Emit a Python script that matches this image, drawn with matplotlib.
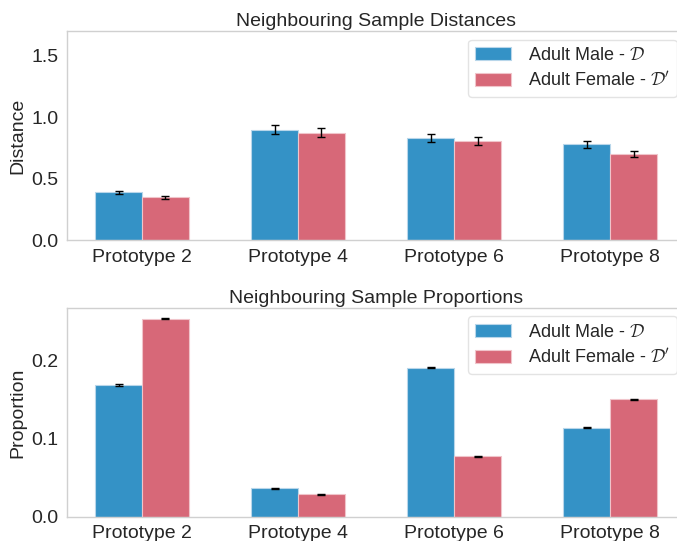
import numpy as np
import matplotlib
matplotlib.use('Agg')
import matplotlib.pyplot as plt
import seaborn as sns

sns.set_style('whitegrid')
plt.rcParams['font.family'] = ['Liberation Sans', 'DejaVu Sans']
plt.rcParams['mathtext.fontset'] = 'cm'

# data
prototypes = ['Prototype 2', 'Prototype 4', 'Prototype 6', 'Prototype 8']
dist_male = [0.39, 0.90, 0.83, 0.78]
dist_male_err = [0.012, 0.035, 0.032, 0.027]
dist_female = [0.35, 0.875, 0.81, 0.705]
dist_female_err = [0.012, 0.035, 0.032, 0.025]
prop_male = [0.169, 0.037, 0.191, 0.114]
prop_male_err = [0.0007, 0.0006, 0.0007, 0.0006]
prop_female = [0.254, 0.029, 0.078, 0.151]
prop_female_err = [0.0007, 0.0006, 0.0006, 0.0007]

labels = [r'Adult Male - $\mathcal{D}$', r"Adult Female - $\mathcal{D}'$"]
c_male = '#3492c6'
c_female = '#d76878'
width = 0.3

fig = plt.figure(figsize=(6.77, 5.41), dpi=100)
ax1 = fig.add_axes([0.099, 0.556, 0.913, 0.386])
ax2 = fig.add_axes([0.099, 0.0444, 0.913, 0.386])

x = np.arange(len(prototypes))


def draw(ax, male, male_err, female, female_err, title, ylabel):
    ax.bar(x - width / 2, male, width, yerr=male_err, color=c_male,
           edgecolor='#b8d6ea', linewidth=0.8, capsize=3,
           error_kw=dict(elinewidth=1, ecolor='black', capthick=1), label=labels[0])
    ax.bar(x + width / 2, female, width, yerr=female_err, color=c_female,
           edgecolor='#f0c4ca', linewidth=0.8, capsize=3,
           error_kw=dict(elinewidth=1, ecolor='black', capthick=1), label=labels[1])
    ax.set_xticks(x)
    ax.set_xticklabels(prototypes)
    ax.set_title(title, fontsize=14, color='#262626', pad=4)
    ax.set_ylabel(ylabel, fontsize=14, color='#262626', labelpad=4)
    ax.tick_params(axis='both', labelsize=14, length=0, colors='#262626', pad=6)
    ax.grid(False)
    for s in ax.spines.values():
        s.set_color('#d0d0d0')
        s.set_linewidth(1.0)
    ax.legend(loc='upper right', fontsize=13, frameon=True, edgecolor='#dddddd',
              handlelength=2.0, handletextpad=0.9, borderaxespad=0.45,
              labelspacing=0.4)


draw(ax1, dist_male, dist_male_err, dist_female, dist_female_err,
     'Neighbouring Sample Distances', 'Distance')
ax1.set_ylim(0, 1.7)
ax1.set_yticks([0.0, 0.5, 1.0, 1.5])

draw(ax2, prop_male, prop_male_err, prop_female, prop_female_err,
     'Neighbouring Sample Proportions', 'Proportion')
ax2.set_yticks([0.0, 0.1, 0.2])

plt.savefig('out.png', dpi=100)
